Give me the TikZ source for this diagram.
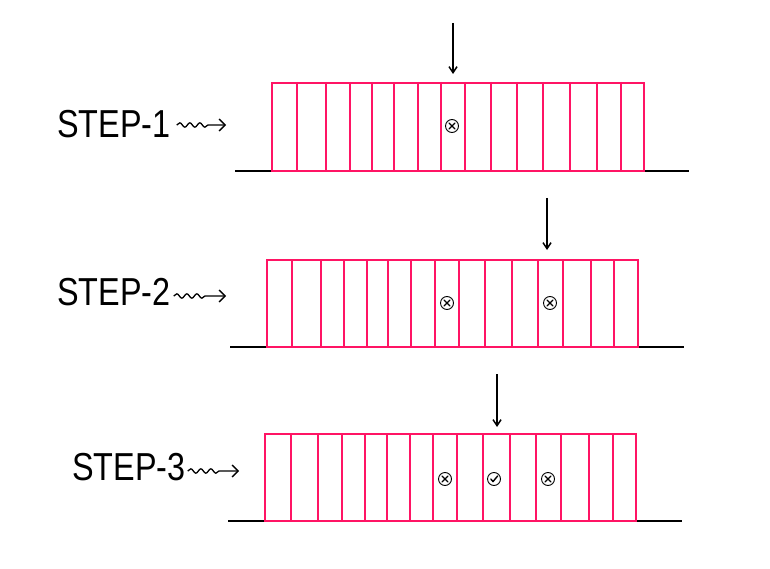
\documentclass[tikz,border=0pt]{standalone}
\usepackage{fontspec}
\setmainfont{Liberation Sans}
\usetikzlibrary{decorations.pathmorphing,arrows.meta}
\definecolor{cellpink}{HTML}{FF1464}
\begin{document}
\begin{tikzpicture}[x=1pt,y=-1pt,
  cellbox/.style={draw=cellpink,line width=2.3pt,rectangle,inner sep=0pt,anchor=north west},
  divider/.style={draw=cellpink,line width=2.2pt},
  ground/.style={draw=black,line width=2pt},
  pointer/.style={draw=black,line width=1.5pt,-{Straight Barb[length=6pt,width=8pt]}},
  wiggle/.style={draw=black,line width=1.3pt,decorate,
    decoration={snake,amplitude=2.2pt,segment length=10pt,post length=17pt},
    -{Straight Barb[length=6pt,width=12pt]}},
  steplabel/.style={font=\fontsize{39}{39}\selectfont,inner sep=0pt,anchor=west},
  ring/.style={draw=black,circle,line width=0.9pt,minimum size=13pt,inner sep=0pt},
  tick/.style={draw=black,line width=1.1pt,line cap=round,line join=round}
]
\useasboundingbox (0,0) rectangle (770,569);

% ---------- STEP 1 ----------
\coordinate (g1l) at (235,171);
\coordinate (g1r) at (689,171);
\draw[ground] (g1l) -- (g1r);
\node[cellbox,minimum width=372pt,minimum height=88pt] (r1) at (271,82) {};
\foreach \x in {297,326,350,372,394,418,441,465,491,517,543,570,597,621}
  \draw[divider] (\x,82) -- (\x,170);
\coordinate (p1s) at (453,23);
\coordinate (p1e) at (453,74);
\draw[pointer] (p1s) -- (p1e);
\node[steplabel] (s1) at (57,124) {\scalebox{0.83}[1]{STEP-1}};
\coordinate (w1e) at (226,125);
\draw[wiggle] (s1.east) ++(6,1) coordinate (w1s) -- (w1e);
\node[ring] (x11) at (452,126) {};
\draw[tick] ([shift={(-3,-3)}]x11.center) -- ([shift={(3,3)}]x11.center)
            ([shift={(-3,3)}]x11.center) -- ([shift={(3,-3)}]x11.center);

% ---------- STEP 2 ----------
\coordinate (g2l) at (230,347);
\coordinate (g2r) at (684,347);
\draw[ground] (g2l) -- (g2r);
\node[cellbox,minimum width=371pt,minimum height=87pt] (r2) at (266,259) {};
\foreach \x in {292,321,344,367,388,411,435,459,485,512,538,563,591,614}
  \draw[divider] (\x,259) -- (\x,346);
\coordinate (p2s) at (547,198);
\coordinate (p2e) at (547,250);
\draw[pointer] (p2s) -- (p2e);
\node[steplabel] (s2) at (57,292) {\scalebox{0.83}[1]{STEP-2}};
\coordinate (w2e) at (226,296);
\draw[wiggle] (s2.east) ++(3,4) coordinate (w2s) -- (w2e);
\node[ring] (x21) at (447,303) {};
\draw[tick] ([shift={(-3,-3)}]x21.center) -- ([shift={(3,3)}]x21.center)
            ([shift={(-3,3)}]x21.center) -- ([shift={(3,-3)}]x21.center);
\node[ring] (x22) at (550,303) {};
\draw[tick] ([shift={(-3,-3)}]x22.center) -- ([shift={(3,3)}]x22.center)
            ([shift={(-3,3)}]x22.center) -- ([shift={(3,-3)}]x22.center);

% ---------- STEP 3 ----------
\coordinate (g3l) at (228,521);
\coordinate (g3r) at (682,521);
\draw[ground] (g3l) -- (g3r);
\node[cellbox,minimum width=371pt,minimum height=87pt] (r3) at (264,433) {};
\foreach \x in {291,318,342,365,387,410,433,457,483,510,536,561,589,613}
  \draw[divider] (\x,433) -- (\x,520);
\coordinate (p3s) at (497,374);
\coordinate (p3e) at (497,427);
\draw[pointer] (p3s) -- (p3e);
\node[steplabel] (s3) at (72,467) {\scalebox{0.83}[1]{STEP-3}};
\coordinate (w3e) at (239,471);
\draw[wiggle] (s3.east) ++(2,4) coordinate (w3s) -- (w3e);
\node[ring] (x31) at (445,479) {};
\draw[tick] ([shift={(-3,-3)}]x31.center) -- ([shift={(3,3)}]x31.center)
            ([shift={(-3,3)}]x31.center) -- ([shift={(3,-3)}]x31.center);
\node[ring] (c32) at (494,479) {};
\draw[tick,line width=1.4pt] ([shift={(-3.2,0)}]c32.center) -- ([shift={(-1,2.6)}]c32.center)
            -- ([shift={(3.6,-3)}]c32.center);
\node[ring] (x33) at (548,479) {};
\draw[tick] ([shift={(-3,-3)}]x33.center) -- ([shift={(3,3)}]x33.center)
            ([shift={(-3,3)}]x33.center) -- ([shift={(3,-3)}]x33.center);
\end{tikzpicture}
\end{document}
